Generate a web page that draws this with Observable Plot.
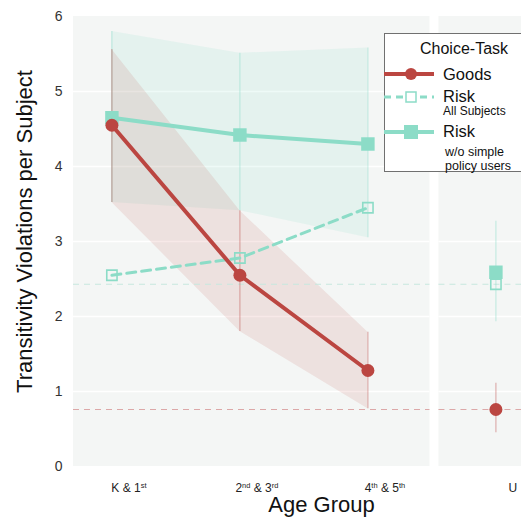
<!DOCTYPE html>
<html>
<head>
<meta charset="utf-8">
<script src="https://cdn.jsdelivr.net/npm/d3@7"></script>
<script src="https://cdn.jsdelivr.net/npm/@observablehq/plot@0.6"></script>
<style>
  html, body { margin: 0; padding: 0; background: #fff; overflow: hidden; }
  #wrap { position: relative; width: 521px; height: 524px; overflow: hidden; font-family: "Liberation Sans", Arial, sans-serif; }
  #legend { position: absolute; left: 384px; top: 33px; width: 170px; height: 139px; background: #fff; border: 1.5px solid #707070; box-sizing: border-box; }
  #legend div { position: absolute; line-height: 1; white-space: nowrap; color: #111; }
  #legend svg { position: absolute; left: -1px; }
</style>
</head>
<body>
<div id="wrap"></div>
<script>
// ---- data ----
const groups = ["K & 1st", "2nd & 3rd", "4th & 5th", "U"];
const goodsMean = [4.55, 2.55, 1.28, 0.76];
const goodsLow  = [3.52, 1.80, 0.77, 0.45];
const goodsHigh = [5.56, 3.41, 1.79, 1.11];
const riskAllMean = [2.55, 2.78, 3.45, 2.43];
const riskSimpleMean = [4.65, 4.42, 4.30, 2.59];
const riskSimpleLow  = [3.52, 3.41, 3.05, 1.93];
const riskSimpleHigh = [5.80, 5.51, 5.58, 3.27];
const yTicks = [0, 1, 2, 3, 4, 5, 6];
const yLabel = "Transitivity Violations per Subject";
const xLabel = "Age Group";
const legendTitle = "Choice-Task";

// ---- derived tables ----
const RED = "#bb4641", TEAL = "#8cdcc7";
const rows = groups.map((g, i) => ({
  i, g, goods: goodsMean[i], gLo: goodsLow[i], gHi: goodsHigh[i],
  rAll: riskAllMean[i], rS: riskSimpleMean[i], rLo: riskSimpleLow[i], rHi: riskSimpleHigh[i]
}));
const child = rows.slice(0, 3);   // connected age groups
// panel extents (in group-index units)
const panels = [{x1: -0.3, x2: 2.485}, {x1: 2.555, x2: 3.7}];
const refLines = [
  {y: goodsMean[3], c: "#dca8a8"},
  {y: riskAllMean[3], c: "#c6e8de"}
];
const refRows = panels.flatMap(p => refLines.map(r => ({...p, ...r})));

const plot = Plot.plot({
  width: 521, height: 524,
  marginLeft: 73, marginRight: 0, marginTop: 16, marginBottom: 58,
  style: {fontFamily: "Liberation Sans, Arial, sans-serif", background: "#fff"},
  x: {type: "linear", domain: [-0.3, 3.2], axis: null},
  y: {domain: [0, 6], axis: null},
  marks: [
    Plot.rect(panels, {x1: "x1", x2: "x2", y1: 0, y2: 6, fill: "#f4f6f5"}),
    Plot.ruleY(yTicks.slice(1, -1).flatMap(t => panels.map(p => ({...p, t}))), {y: "t", x1: "x1", x2: "x2", stroke: "#fff", strokeWidth: 1.5}),
    // confidence bands
    Plot.areaY(child, {x: "i", y1: "rLo", y2: "rHi", fill: TEAL, fillOpacity: 0.15}),
    Plot.areaY(child, {x: "i", y1: "gLo", y2: "gHi", fill: RED, fillOpacity: 0.12}),
    // reference dashed lines
    Plot.ruleY(refRows, {y: "y", x1: "x1", x2: "x2", stroke: "c", strokeWidth: 1.2, strokeDasharray: "6,5"}),
    // error bars
    Plot.ruleX(rows, {x: "i", y1: "rLo", y2: "rHi", stroke: TEAL, strokeOpacity: 0.45, strokeWidth: 1.2}),
    Plot.ruleX(rows, {x: "i", y1: "gLo", y2: "gHi", stroke: RED, strokeOpacity: 0.4, strokeWidth: 1.2}),
    // lines
    Plot.line(child, {x: "i", y: "rAll", stroke: TEAL, strokeWidth: 3, strokeDasharray: "9,6"}),
    Plot.line(child, {x: "i", y: "rS", stroke: TEAL, strokeWidth: 4}),
    Plot.line(child, {x: "i", y: "goods", stroke: RED, strokeWidth: 4}),
    // markers
    Plot.dot(rows, {x: "i", y: "rAll", symbol: "square", r: 5.8, stroke: TEAL, strokeWidth: 1.6, fill: "none"}),
    Plot.dot(rows, {x: "i", y: "rS", symbol: "square", r: 7.6, fill: TEAL}),
    Plot.dot(rows, {x: "i", y: "goods", r: 6.5, fill: RED}),
    // axes
    Plot.axisY(yTicks, {tickSize: 0, tickPadding: 11, fontSize: 14, fill: "#333", label: null, tickFormat: d3.format("d")}),
    Plot.axisX([0, 1, 2, 3], {tickSize: 0, tickPadding: 17, dx: 17, fontSize: 12, fill: "#222", label: null, tickFormat: i => groups[i]}),
    Plot.text([yLabel], {frameAnchor: "left", textAnchor: "middle", dx: -49, dy: -10, rotate: -90, fontSize: 22, fill: "#111"}),
    Plot.text([xLabel], {frameAnchor: "bottom", dx: 24, dy: 45, fontSize: 22, fill: "#111"})
  ]
});

// superscript ordinals in tick labels
d3.select(plot).selectAll("text").each(function() {
  const t = this.textContent;
  if (!/\d(st|nd|rd|th)/.test(t) || this.querySelector("tspan")) return;
  const sel = d3.select(this);
  sel.text(null);
  const parts = t.split(/(st|nd|rd|th)/).filter(s => s);
  let raised = false;
  parts.forEach(p => {
    const sup = /^(st|nd|rd|th)$/.test(p);
    const ts = sel.append("tspan").text(p);
    if (sup) { ts.attr("font-size", "0.62em").attr("dy", "-0.5em"); raised = true; }
    else if (raised) { ts.attr("dy", "0.31em"); raised = false; }
  });
});

const wrap = document.getElementById("wrap");
wrap.appendChild(plot);

// legend
const lg = document.createElement("div");
lg.id = "legend";
lg.innerHTML = `
  <div style="left:35px;top:7px;font-size:16px">${legendTitle}</div>
  <svg width="52" height="16" style="top:32px"><line x1="0" x2="50" y1="8" y2="8" stroke="${RED}" stroke-width="4"/><circle cx="27" cy="8" r="6" fill="${RED}"/></svg>
  <div style="left:58px;top:32px;font-size:16.5px">Goods</div>
  <svg width="52" height="16" style="top:55px"><line x1="0" x2="50" y1="8" y2="8" stroke="${TEAL}" stroke-width="3" stroke-dasharray="7,5"/><rect x="22" y="3" width="10" height="10" fill="#fff" stroke="${TEAL}" stroke-width="1.5"/></svg>
  <div style="left:58px;top:54px;font-size:16.5px">Risk</div>
  <div style="left:58px;top:71px;font-size:12px">All Subjects</div>
  <svg width="52" height="16" style="top:90px"><line x1="0" x2="50" y1="8" y2="8" stroke="${TEAL}" stroke-width="4"/><rect x="20" y="1" width="14" height="14" fill="${TEAL}"/></svg>
  <div style="left:58px;top:89px;font-size:16.5px">Risk</div>
  <div style="left:60px;top:112px;font-size:12.5px">w/o simple</div>
  <div style="left:60px;top:126px;font-size:12.5px">policy users</div>
`;
wrap.appendChild(lg);
</script>
</body>
</html>
